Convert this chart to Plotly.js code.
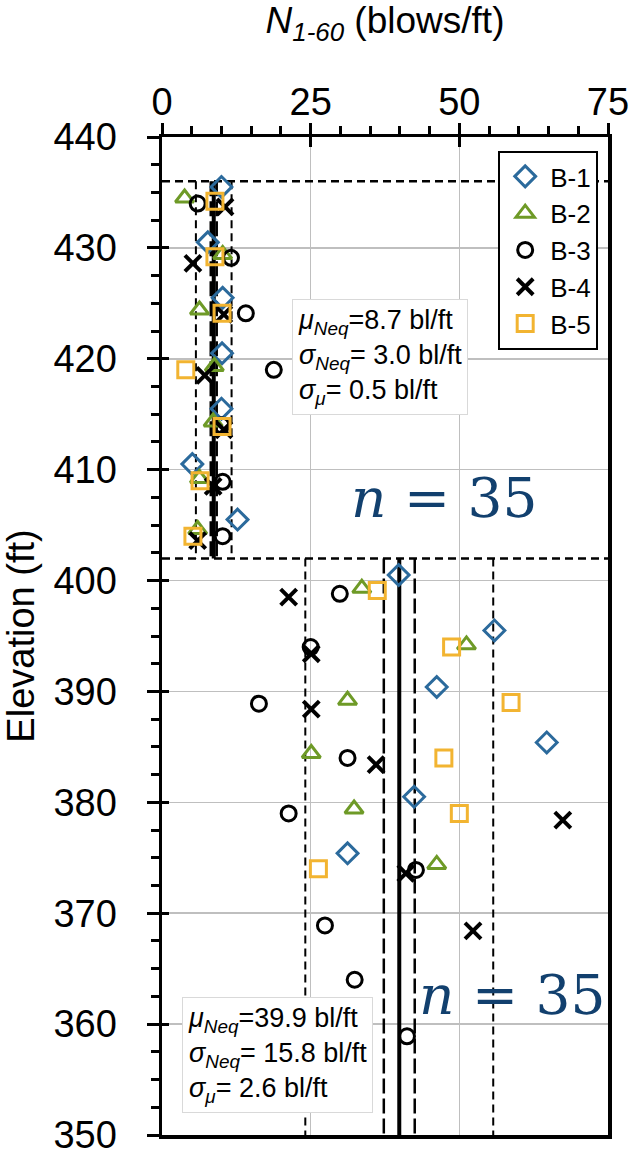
<!DOCTYPE html>
<html>
<head>
<meta charset="utf-8">
<script src="https://cdn.plot.ly/plotly-3.0.1.min.js"></script>
<style>
  html, body { margin: 0; padding: 0; background: #ffffff; }
  #chart { width: 636px; height: 1152px; }
</style>
</head>
<body>
<div id="chart"></div>
<script>
// ---------------- data ----------------
const boringNames = ["B-1", "B-2", "B-3", "B-4", "B-5"];

const b1Elev = [435.5, 430.5, 425.5, 420.5, 415.5, 410.5, 405.5, 400.5, 395.5, 390.4, 385.4, 380.5, 375.4];
const b1N    = [10.0, 7.7, 10.2, 10.1, 10.0, 5.1, 12.7, 39.8, 55.9, 46.2, 64.7, 42.4, 31.2];

const b2Elev = [434.5, 429.4, 424.4, 419.3, 414.3, 409.2, 404.6, 399.3, 394.2, 389.2, 384.4, 379.4, 374.4];
const b2N    = [3.8, 10.2, 6.3, 8.8, 8.6, 6.3, 6.0, 33.6, 51.2, 31.2, 25.1, 32.3, 46.2];

const b3Elev = [434.0, 429.1, 424.1, 419.0, 414.0, 408.9, 404.0, 398.8, 394.0, 388.9, 384.0, 379.0, 373.9, 368.9, 364.0, 358.9];
const b3N    = [6.0, 11.6, 14.1, 18.8, 10.0, 10.2, 10.2, 29.9, 25.0, 16.3, 31.2, 21.3, 42.7, 27.4, 32.4, 41.2];

const b4Elev = [433.7, 428.6, 424.0, 418.5, 413.6, 408.5, 403.6, 398.5, 393.4, 388.4, 383.4, 378.4, 373.6, 368.4];
const b4N    = [10.6, 5.2, 10.4, 7.2, 10.4, 8.6, 6.0, 21.3, 25.1, 25.1, 36.0, 67.4, 41.0, 52.3];

const b5Elev = [434.2, 429.2, 424.1, 419.0, 413.9, 409.0, 404.0, 399.1, 394.0, 389.0, 384.0, 379.0, 374.0];
const b5N    = [8.9, 8.9, 10.1, 4.0, 10.1, 6.4, 5.2, 36.2, 48.7, 58.7, 47.4, 50.0, 26.3];

// layer statistics (upper layer, lower layer)
const layerTopElev    = [436, 402];
const layerBottomElev = [402, 350];
const muNeq    = [8.7, 39.9];
const sigmaNeq = [3.0, 15.8];
const sigmaMu  = [0.5, 2.6];
const nSamples = [35, 35];
const boundaryElev = [436, 402];

const xRange = [0, 75];
const yRange = [350, 440];
const xTickVals = [0, 25, 50, 75];
const yTickVals = [350, 360, 370, 380, 390, 400, 410, 420, 430, 440];

// ---------------- styles ----------------
const FONT = "'Liberation Sans', Arial, sans-serif";
const colors  = ["#2B6A9C", "#6E9A27", "#000000", "#000000", "#F2B431"];
const symbols = ["diamond-open", "triangle-up-open", "circle-open", "x-thin-open", "square-open"];
const sizes   = [16, 16, 15, 16, 16];
const lineW   = [3, 3, 3, 4, 3];

const elevs = [b1Elev, b2Elev, b3Elev, b4Elev, b5Elev];
const Ns    = [b1N, b2N, b3N, b4N, b5N];

const traces = [];

function refLine(xs, ys, dash, width) {
  traces.push({
    type: "scatter", mode: "lines", x: xs, y: ys,
    line: { color: "black", width: width, dash: dash },
    showlegend: false, hoverinfo: "skip"
  });
}

// layer boundaries
boundaryElev.forEach(e => refLine(xRange, [e, e], "8px,5px", 2.5));

// statistics lines per layer
for (let i = 0; i < muNeq.length; i++) {
  const yy = [layerTopElev[i], layerBottomElev[i]];
  refLine([muNeq[i] - sigmaNeq[i], muNeq[i] - sigmaNeq[i]], yy, "8px,5px", 2);
  refLine([muNeq[i] + sigmaNeq[i], muNeq[i] + sigmaNeq[i]], yy, "8px,5px", 2);
  refLine([muNeq[i] - sigmaMu[i], muNeq[i] - sigmaMu[i]], yy, "15px,5px", 2.5);
  refLine([muNeq[i] + sigmaMu[i], muNeq[i] + sigmaMu[i]], yy, "15px,5px", 2.5);
  refLine([muNeq[i], muNeq[i]], yy, "solid", 4);
}

// borings
for (let k = 0; k < boringNames.length; k++) {
  traces.push({
    type: "scatter", mode: "markers", name: boringNames[k],
    x: Ns[k], y: elevs[k],
    marker: { symbol: symbols[k], size: sizes[k], color: colors[k],
              line: { color: colors[k], width: lineW[k] } },
    showlegend: true
  });
}

// empty traces so the tick-only overlay axes exist
traces.push({ type: "scatter", x: [], y: [], xaxis: "x2", yaxis: "y2", showlegend: false, hoverinfo: "skip" });
traces.push({ type: "scatter", x: [], y: [], xaxis: "x3", yaxis: "y3", showlegend: false, hoverinfo: "skip" });

function statText(i) {
  return "<i>μ</i><sub><i>Neq</i></sub>=" + muNeq[i].toFixed(1) + " bl/ft<br>" +
         "<i>σ</i><sub><i>Neq</i></sub>= " + sigmaNeq[i].toFixed(1) + " bl/ft<br>" +
         "<i>σ</i><sub><i>μ</i></sub>= " + sigmaMu[i].toFixed(1) + " bl/ft";
}

const statBoxStyle = {
  xref: "paper", yref: "paper", xanchor: "left", yanchor: "top", align: "left",
  showarrow: false, bgcolor: "white", bordercolor: "#d9d9d9", borderwidth: 1, borderpad: 5,
  font: { family: FONT, size: 27, color: "black" }
};

const nStyle = {
  xref: "paper", yref: "paper", xanchor: "center", yanchor: "middle", showarrow: false,
  font: { family: "'DejaVu Serif', 'Liberation Serif', serif", size: 55, color: "#12406E" }
};

const tickOnly = {
  showticklabels: false, showgrid: false, zeroline: false, showline: false, fixedrange: true,
  tickwidth: 3, tickcolor: "black"
};

const layout = {
  width: 636, height: 1152,
  margin: { l: 162, r: 28, t: 137, b: 17, pad: 0 },
  paper_bgcolor: "white", plot_bgcolor: "white",
  font: { family: FONT, color: "black" },
  showlegend: true,
  xaxis: {
    side: "top", range: xRange, tickvals: xTickVals, ticktext: xTickVals.map(String),
    showgrid: true, gridcolor: "#bfbfbf", gridwidth: 1.5, zeroline: false,
    showline: true, linecolor: "black", linewidth: 3.5, mirror: true,
    ticks: "", ticklabelstandoff: 3, ticklabeloverflow: "allow",
    tickfont: { family: FONT, size: 38, color: "black" },
    title: { text: "<i>N</i><sub><i>1-60</i></sub> (blows/ft)", font: { family: FONT, size: 37, color: "black" }, standoff: 43 },
    fixedrange: true
  },
  yaxis: {
    range: yRange, tickvals: yTickVals, ticktext: yTickVals.map(String),
    showgrid: true, gridcolor: "#bfbfbf", gridwidth: 1.5, zeroline: false,
    showline: true, linecolor: "black", linewidth: 3.5, mirror: true,
    ticks: "", ticklabelstandoff: 34, ticklabeloverflow: "allow",
    tickfont: { family: FONT, size: 38, color: "black" },
    title: { text: "Elevation (ft)", font: { family: FONT, size: 38, color: "black" }, standoff: 16 },
    fixedrange: true
  },
  // outside major + minor ticks
  xaxis2: Object.assign({
    overlaying: "x", anchor: "y2", side: "top", range: xRange, tickvals: xTickVals,
    ticks: "outside", ticklen: 13,
    minor: { dtick: 5, tick0: 0, ticks: "outside", ticklen: 10, tickwidth: 3, tickcolor: "black", showgrid: false }
  }, tickOnly),
  yaxis2: Object.assign({
    overlaying: "y", anchor: "x2", side: "left", range: yRange, tickvals: yTickVals,
    ticks: "outside", ticklen: 14,
    minor: { dtick: 2.5, tick0: 350, ticks: "outside", ticklen: 10, tickwidth: 3, tickcolor: "black", showgrid: false }
  }, tickOnly),
  // inside part of the crossing major ticks
  xaxis3: Object.assign({
    overlaying: "x", anchor: "y3", side: "top", range: xRange, tickvals: xTickVals,
    ticks: "inside", ticklen: 10
  }, tickOnly),
  yaxis3: Object.assign({
    overlaying: "y", anchor: "x3", side: "left", range: yRange, tickvals: yTickVals,
    ticks: "inside", ticklen: 7
  }, tickOnly),
  legend: {
    x: 0.978, xanchor: "right", y: 0.986, yanchor: "top",
    bgcolor: "white", bordercolor: "black", borderwidth: 2,
    font: { family: FONT, size: 26, color: "black" },
    tracegroupgap: 0, itemwidth: 40
  },
  annotations: [
    Object.assign({ x: 0.2915, y: 0.8377, text: statText(0) }, statBoxStyle),
    Object.assign({ x: 0.0448, y: 0.1383, text: statText(1) }, statBoxStyle),
    Object.assign({ x: 0.632, y: 0.638, text: "<i>n</i> = " + nSamples[0] }, nStyle),
    Object.assign({ x: 0.785, y: 0.140, text: "<i>n</i> = " + nSamples[1] }, nStyle)
  ]
};

Plotly.newPlot("chart", traces, layout, { displayModeBar: false, staticPlot: true });
</script>
</body>
</html>
